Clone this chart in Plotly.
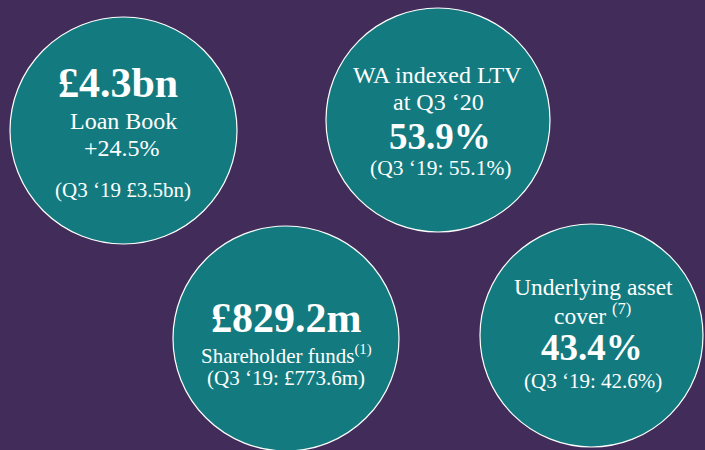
import plotly.graph_objects as go

# text content of each bubble (big figure, label lines, comparison)
loan_book = ["£4.3bn", "Loan Book", "+24.5%", "(Q3 ‘19 £3.5bn)"]
ltv = ["WA indexed LTV", "at Q3 ‘20", "53.9%", "(Q3 ‘19: 55.1%)"]
funds = ["£829.2m", "Shareholder funds<sup>(1)</sup>", "(Q3 ‘19: £773.6m)"]
cover = ["Underlying asset", "cover <sup>(7)</sup>", "43.4%", "(Q3 ‘19: 42.6%)"]

BG = "#422C5A"
TEAL = "#137B80"
FONT = "Liberation Serif"

fig = go.Figure()

# bubbles: (x0, y0, x1, y1) in pixel space
circles = [(10, 17, 237, 244), (326, 8, 550, 232), (173, 226, 399, 451), (480, 224, 703, 447)]
for x0, y0, x1, y1 in circles:
    fig.add_shape(type="circle", x0=x0, y0=y0, x1=x1, y1=y1,
                  fillcolor=TEAL, line=dict(color="white", width=1.2), layer="below")

def line(text, x, baseline, size, bold=False):
    # rough baseline -> middle conversion for a single text line
    txt = f"<b>{text}</b>" if bold else text
    fig.add_annotation(x=x, y=baseline - 0.33 * size, text=txt, showarrow=False,
                       xanchor="center", yanchor="middle",
                       font=dict(family=FONT, size=size, color="white"))

line(loan_book[0], 118, 97, 42, True)
line(loan_book[1], 123, 129, 24)
line(loan_book[2], 122, 156, 24)
line(loan_book[3], 123, 197, 21)

line(ltv[0], 437, 83, 24)
line(ltv[1], 438, 110, 24)
line(ltv[2], 440, 149, 37, True)
line(ltv[3], 441, 175, 21.5)

line(funds[0], 286, 332, 42, True)
line(funds[1], 286, 361, 21)
line(funds[2], 286, 385, 21)

line(cover[0], 593, 295, 23.5)
line(cover[1], 592, 322, 23.5)
line(cover[2], 592, 360, 37, True)
line(cover[3], 593, 388, 21)

fig.update_layout(
    width=705, height=450,
    margin=dict(l=0, r=0, t=0, b=0),
    paper_bgcolor=BG, plot_bgcolor=BG,
    showlegend=False,
    xaxis=dict(range=[0, 705], visible=False, fixedrange=True),
    yaxis=dict(range=[450, 0], visible=False, fixedrange=True),
)

fig.write_html("out.html", config={"displayModeBar": False},
               post_script="document.body.style.margin='0';")
